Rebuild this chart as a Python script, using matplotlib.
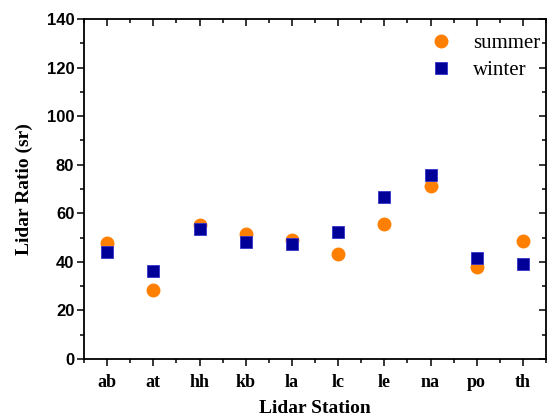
import numpy as np
import matplotlib.pyplot as plt
from matplotlib.ticker import MultipleLocator

stations = ["ab", "at", "hh", "kb", "la", "lc", "le", "na", "po", "th"]
summer = [47.7, 28.4, 55.1, 51.4, 49.0, 43.2, 55.6, 71.2, 37.9, 48.6]
winter = [44.0, 36.2, 53.5, 48.1, 47.3, 52.3, 66.7, 75.7, 41.6, 39.1]

serif = "Liberation Serif"
sans = "Liberation Sans"

fig = plt.figure(figsize=(5.49, 4.19), dpi=100)
ax = fig.add_axes([84 / 549, 1 - 359 / 419, (546 - 84) / 549, (359 - 19) / 419])

x = np.arange(1, len(stations) + 1)
ax.plot(x, summer, "o", color="#ff8000", markersize=9, mec="#ff8000", label="summer")
ax.plot(x, winter, "s", color="#000099", markersize=8, mec="#3333cc", mew=0.6, label="winter")

ax.set_xlim(0.5, len(stations) + 0.5)
ax.set_ylim(0, 140)
ax.set_xticks(x)
ax.set_xticklabels(stations, fontfamily=serif, fontweight="bold", fontsize=13)
ax.xaxis.set_minor_locator(MultipleLocator(0.5))
ax.yaxis.set_major_locator(MultipleLocator(20))
ax.yaxis.set_minor_locator(MultipleLocator(10))
for lab in ax.get_yticklabels():
    lab.set_fontfamily(sans)
    lab.set_fontweight("bold")
    lab.set_fontsize(12)

for s in ax.spines.values():
    s.set_linewidth(1.3)
ax.tick_params(axis="both", which="both", width=1.1)
ax.tick_params(which="major", length=5)
ax.tick_params(which="minor", length=3)
ax.tick_params(axis="x", which="both", direction="out", top=True, pad=6)
ax.tick_params(axis="y", which="both", direction="out", right=True, pad=2)
# top and right ticks point inward
for t in ax.xaxis.get_major_ticks() + ax.xaxis.get_minor_ticks():
    t.tick2line.set_marker(3)
for t in ax.yaxis.get_major_ticks() + ax.yaxis.get_minor_ticks():
    t.tick2line.set_marker(0)

ax.set_xlabel("Lidar Station", fontfamily=serif, fontweight="bold", fontsize=14, labelpad=6)
ax.set_ylabel("Lidar Ratio (sr)", fontfamily=serif, fontweight="bold", fontsize=14, labelpad=10)

leg = ax.legend(loc="upper right", frameon=False, prop={"family": serif, "size": 15},
                handletextpad=0.9, borderaxespad=0.15, labelspacing=0.35, handlelength=1.3,
                bbox_to_anchor=(1.012, 0.99))

fig.savefig("out.png", dpi=100)
